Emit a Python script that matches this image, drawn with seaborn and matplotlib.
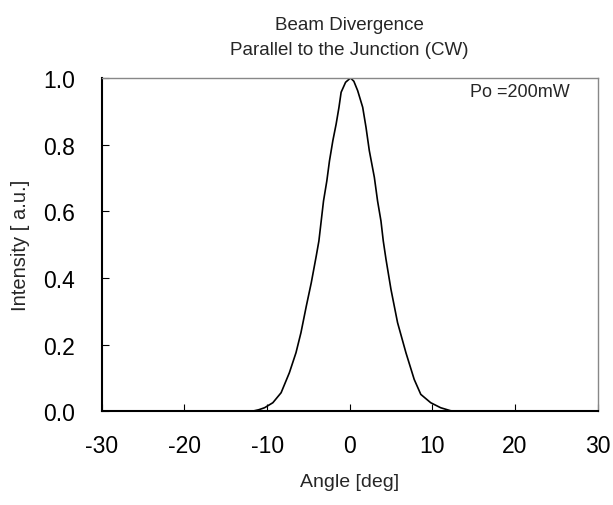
import matplotlib
matplotlib.use("Agg")
import matplotlib.pyplot as plt
import seaborn as sns
import pandas as pd

# beam profile
angle = [-30.0, -20.0, -14.0, -13.3, -12.5, -11.7, -11.0, -10.3, -9.3, -8.3,
         -7.3, -6.5, -5.9, -5.25, -4.65, -4.05, -3.73, -3.45, -3.17, -2.77,
         -2.45, -2.04, -1.64, -1.3, -1.04, -0.5, 0.1, 0.5, 0.96, 1.57,
         1.97, 2.37, 2.98, 3.37, 3.78, 4.06, 4.39, 4.99, 5.79, 6.8,
         7.8, 8.6, 9.8, 11.0, 12.2, 13.0, 14.0, 20.0, 30.0]
intensity = [0.0, 0.0, 0.0, 0.0, 0.0, 0.001, 0.005, 0.011, 0.026, 0.056,
             0.116, 0.176, 0.236, 0.316, 0.386, 0.466, 0.511, 0.571, 0.631, 0.691,
             0.751, 0.812, 0.862, 0.912, 0.957, 0.987, 1.0, 0.99, 0.962, 0.912,
             0.852, 0.782, 0.702, 0.631, 0.571, 0.511, 0.456, 0.366, 0.266, 0.176,
             0.096, 0.051, 0.026, 0.011, 0.002, 0.0, 0.0, 0.0, 0.0]

x_ticks = [-30, -20, -10, 0, 10, 20, 30]
y_ticks = [0.0, 0.2, 0.4, 0.6, 0.8, 1.0]

sns.set_style("ticks")
plt.rcParams['font.family'] = ['Liberation Sans', 'DejaVu Sans']

df = pd.DataFrame({'Angle': angle, 'Intensity': intensity})

fig = plt.figure(figsize=(6.13, 5.06), dpi=100)
ax = fig.add_axes([0.166, 0.185, 0.809, 0.659])
sns.lineplot(data=df, x='Angle', y='Intensity', color='black', linewidth=1.2, ax=ax)

ax.set_xlim(-30, 30)
ax.set_ylim(0, 1.0)
ax.set_xticks(x_ticks)
ax.set_xticklabels([str(t) for t in x_ticks])
ax.set_yticks(y_ticks)
ax.set_yticklabels(['%.1f' % t for t in y_ticks])
ax.tick_params(direction='in', length=5, width=0.8, labelsize=16.5, colors='black')
ax.tick_params(axis='y', pad=19)
ax.tick_params(axis='x', pad=16)
for side in ['top', 'right']:
    ax.spines[side].set_color('#888888')
    ax.spines[side].set_linewidth(1.0)
for side in ['left', 'bottom']:
    ax.spines[side].set_color('black')
    ax.spines[side].set_linewidth(1.5)

ax.set_xlabel('Angle [deg]', fontsize=14, labelpad=12)
ax.set_ylabel('Intensity [ a.u.]', fontsize=14.5, labelpad=10)
ax.set_title('Beam Divergence\nParallel to the Junction (CW)', fontsize=13.5,
             pad=17, linespacing=1.65)
ax.text(14.5, 0.96, 'Po =200mW', fontsize=13, va='center', ha='left')

plt.savefig('out.png', dpi=100)
plt.close()
